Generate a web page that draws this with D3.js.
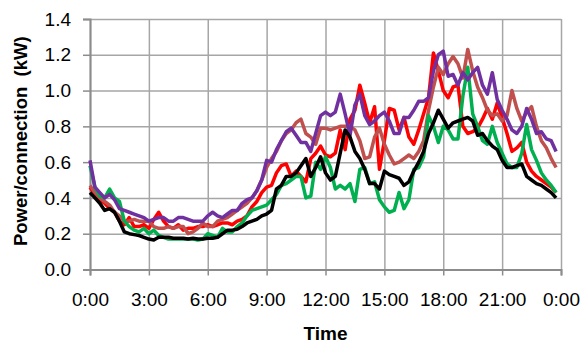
<!DOCTYPE html>
<html>
<head>
<meta charset="utf-8">
<script src="https://cdn.jsdelivr.net/npm/d3@7"></script>
<style>
  body { margin: 0; background: #fff; }
  svg { display: block; font-family: 'Liberation Sans', Arial, sans-serif; }
</style>
</head>
<body>
<svg width="585" height="344"></svg>
<script>
// x categories: one reading every 15 minutes, in hours
const TIMES = d3.range(0, 24, 0.25)
const HOUR_TICKS = [0, 3, 6, 9, 12, 15, 18, 21, 24]
const HOUR_LABELS = ['0:00', '3:00', '6:00', '9:00', '12:00', '15:00', '18:00', '21:00', '0:00']
const Y_TICKS = [0, 0.2, 0.4, 0.6, 0.8, 1.0, 1.2, 1.4]

const RED = [0.46, 0.42, 0.39, 0.37, 0.34, 0.32, 0.27, 0.25, 0.29, 0.24, 0.24, 0.25,
  0.23, 0.28, 0.32, 0.27, 0.24, 0.23, 0.25, 0.22, 0.23, 0.23, 0.24, 0.24,
  0.25, 0.24, 0.25, 0.26, 0.26, 0.25, 0.27, 0.28, 0.30, 0.35, 0.38, 0.43,
  0.46, 0.47, 0.54, 0.58, 0.59, 0.52, 0.55, 0.52, 0.49, 0.62, 0.65, 0.69,
  0.64, 0.63, 0.65, 0.78, 0.67, 0.84, 0.89, 1.03, 0.93, 0.82, 0.91, 0.56,
  0.72, 0.90, 0.89, 0.78, 0.85, 0.74, 0.70, 0.78, 0.87, 0.96, 1.21, 1.11,
  1.00, 0.96, 1.02, 1.03, 0.80, 0.76, 0.77, 0.79, 0.84, 0.90, 0.84, 0.93,
  0.85, 0.76, 0.66, 0.68, 0.71, 0.60, 0.55, 0.52, 0.50, 0.48, 0.46, 0.43]

const BROWN = [0.47, 0.43, 0.40, 0.38, 0.36, 0.32, 0.30, 0.27, 0.27, 0.28, 0.27, 0.27,
  0.27, 0.24, 0.23, 0.23, 0.24, 0.23, 0.24, 0.24, 0.20, 0.21, 0.23, 0.26,
  0.24, 0.24, 0.27, 0.28, 0.29, 0.31, 0.33, 0.35, 0.37, 0.40, 0.44, 0.50,
  0.57, 0.62, 0.66, 0.72, 0.76, 0.78, 0.82, 0.84, 0.76, 0.74, 0.70, 0.79,
  0.79, 0.78, 0.79, 0.80, 0.80, 0.80, 0.78, 0.72, 0.62, 0.63, 0.74, 0.79,
  0.70, 0.64, 0.59, 0.60, 0.62, 0.64, 0.62, 0.66, 0.72, 0.89, 1.02, 1.13,
  1.09, 1.15, 1.19, 1.15, 1.07, 1.23, 1.11, 1.02, 0.96, 0.89, 0.86, 0.87,
  0.83, 0.86, 1.00, 0.90, 0.83, 0.88, 0.91, 0.80, 0.72, 0.68, 0.62, 0.57]

const GREEN = [0.58, 0.46, 0.41, 0.40, 0.45, 0.40, 0.38, 0.27, 0.24, 0.22, 0.21, 0.23,
  0.20, 0.22, 0.19, 0.18, 0.17, 0.17, 0.17, 0.17, 0.17, 0.17, 0.165, 0.17,
  0.20, 0.19, 0.18, 0.23, 0.21, 0.21, 0.24, 0.26, 0.30, 0.33, 0.34, 0.35,
  0.36, 0.39, 0.42, 0.47, 0.48, 0.50, 0.52, 0.52, 0.40, 0.41, 0.60, 0.56,
  0.63, 0.57, 0.45, 0.47, 0.45, 0.48, 0.38, 0.56, 0.57, 0.48, 0.49, 0.39,
  0.35, 0.32, 0.33, 0.43, 0.34, 0.39, 0.56, 0.57, 0.63, 0.86, 0.80, 0.71,
  0.80, 0.78, 0.73, 0.73, 0.97, 1.13, 0.87, 0.80, 0.72, 0.70, 0.80, 0.71,
  0.65, 0.59, 0.57, 0.57, 0.65, 0.81, 0.67, 0.61, 0.54, 0.50, 0.47, 0.43]

const PURPLE = [0.61, 0.46, 0.43, 0.40, 0.42, 0.39, 0.34, 0.33, 0.32, 0.31, 0.30, 0.29,
  0.27, 0.28, 0.29, 0.29, 0.27, 0.27, 0.29, 0.29, 0.28, 0.27, 0.27, 0.27,
  0.30, 0.32, 0.30, 0.29, 0.31, 0.33, 0.33, 0.37, 0.39, 0.40, 0.44, 0.50,
  0.61, 0.60, 0.67, 0.72, 0.77, 0.79, 0.75, 0.71, 0.71, 0.66, 0.76, 0.86,
  0.88, 0.86, 0.88, 0.98, 0.87, 0.75, 0.92, 0.98, 0.86, 0.81, 0.83, 0.86,
  0.88, 0.83, 0.76, 0.76, 0.85, 0.85, 0.89, 0.94, 0.94, 0.96, 1.11, 1.20,
  1.22, 1.08, 1.09, 1.03, 1.10, 1.06, 1.10, 1.13, 1.03, 0.98, 1.10, 0.95,
  0.89, 0.84, 0.78, 0.76, 0.80, 0.90, 0.84, 0.76, 0.77, 0.73, 0.72, 0.66]

const BLACK = [0.43, 0.40, 0.37, 0.33, 0.34, 0.32, 0.27, 0.21, 0.20, 0.195, 0.19, 0.18,
  0.17, 0.165, 0.18, 0.18, 0.18, 0.175, 0.175, 0.175, 0.17, 0.175, 0.17, 0.17,
  0.175, 0.175, 0.18, 0.20, 0.22, 0.22, 0.225, 0.24, 0.26, 0.27, 0.28, 0.30,
  0.31, 0.33, 0.45, 0.47, 0.52, 0.52, 0.54, 0.58, 0.62, 0.52, 0.57, 0.63,
  0.54, 0.50, 0.52, 0.65, 0.78, 0.74, 0.66, 0.62, 0.56, 0.48, 0.48, 0.45,
  0.55, 0.53, 0.52, 0.51, 0.47, 0.49, 0.55, 0.60, 0.66, 0.76, 0.82, 0.89,
  0.84, 0.79, 0.82, 0.83, 0.84, 0.85, 0.83, 0.75, 0.76, 0.72, 0.69, 0.67,
  0.61, 0.57, 0.57, 0.58, 0.59, 0.52, 0.50, 0.48, 0.47, 0.45, 0.43, 0.40]

const SERIES = [
  { color: '#ff0000', values: RED },
  { color: '#c0504d', values: BROWN },
  { color: '#00b050', values: GREEN },
  { color: '#7030a0', values: PURPLE },
  { color: '#000000', values: BLACK }
]

const svg = d3.select('svg')
const plot = { left: 90, right: 561, top: 19, bottom: 269.5 }

const x = d3.scaleLinear().domain([0, 24]).range([plot.left, plot.right])
const y = d3.scaleLinear().domain([0, 1.4]).range([plot.bottom, plot.top])

// gridlines
svg.append('g')
  .attr('transform', `translate(${plot.left},0)`)
  .call(d3.axisLeft(y).tickValues(Y_TICKS).tickSize(-(plot.right - plot.left)).tickFormat(''))
  .call(g => g.select('.domain').remove())
  .call(g => g.selectAll('line').attr('stroke', '#a6a6a6').attr('stroke-width', 1.5))

svg.append('g')
  .attr('transform', `translate(0,${plot.bottom})`)
  .call(d3.axisBottom(x).tickValues(HOUR_TICKS).tickSize(-(plot.bottom - plot.top)).tickFormat(''))
  .call(g => g.select('.domain').remove())
  .call(g => g.selectAll('line').attr('stroke', '#a6a6a6').attr('stroke-width', 1.5))

// axes with labels
svg.append('g')
  .attr('transform', `translate(${plot.left},0)`)
  .call(d3.axisLeft(y).tickValues(Y_TICKS).tickSize(7).tickPadding(12).tickFormat(d3.format('.1f')))
  .call(g => g.select('.domain').attr('stroke', '#8c8c8c').attr('stroke-width', 2))
  .call(g => g.selectAll('line').attr('stroke', '#8c8c8c').attr('stroke-width', 1.5))
  .call(g => g.selectAll('text').attr('font-size', 19).attr('fill', '#000')
    .attr('font-family', "'Liberation Sans', Arial, sans-serif"))

svg.append('g')
  .attr('transform', `translate(0,${plot.bottom})`)
  .call(d3.axisBottom(x).tickValues(HOUR_TICKS).tickSize(6).tickPadding(17)
    .tickFormat((d, i) => HOUR_LABELS[i]))
  .call(g => g.select('.domain').attr('stroke', '#8c8c8c').attr('stroke-width', 2))
  .call(g => g.selectAll('line').attr('stroke', '#8c8c8c').attr('stroke-width', 1.5))
  .call(g => g.selectAll('text').attr('font-size', 19).attr('fill', '#000')
    .attr('font-family', "'Liberation Sans', Arial, sans-serif"))

// series
const line = d3.line()
  .x((d, i) => x(TIMES[i]))
  .y(d => y(d))

svg.append('g')
  .selectAll('path')
  .data(SERIES)
  .enter().append('path')
  .attr('d', d => line(d.values))
  .attr('fill', 'none')
  .attr('stroke', d => d.color)
  .attr('stroke-width', 3.5)
  .attr('stroke-linejoin', 'round')

// axis titles
svg.append('text')
  .attr('x', (plot.left + plot.right) / 2)
  .attr('y', 340)
  .attr('text-anchor', 'middle')
  .attr('font-size', 19)
  .attr('font-weight', 'bold')
  .text('Time')

svg.append('text')
  .attr('transform', `translate(27,${(plot.top + plot.bottom) / 2 - 3}) rotate(-90)`)
  .attr('text-anchor', 'middle')
  .attr('font-size', 18.5)
  .attr('font-weight', 'bold')
  .style('white-space', 'pre')
  .text('Power/connection  (kW)')
</script>
</body>
</html>
